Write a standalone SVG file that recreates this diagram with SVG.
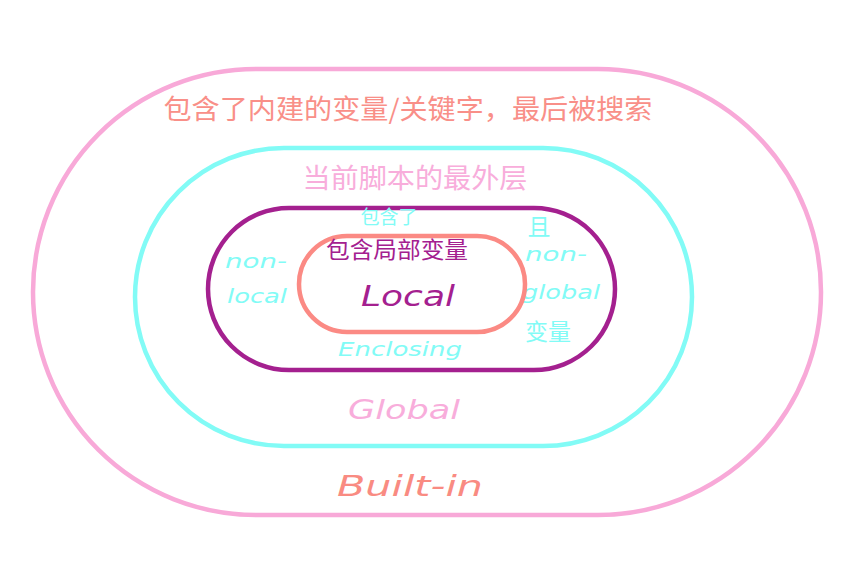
<svg xmlns="http://www.w3.org/2000/svg" width="845" height="588" viewBox="0 0 845 588">
<style>
.ring{fill:none;stroke-width:4.5;}
.cjk{font-family:"Noto Sans CJK SC","Noto Sans",sans-serif;text-anchor:middle;}
.hand{font-family:"DejaVu Sans","Liberation Sans",sans-serif;font-style:italic;text-anchor:middle;font-weight:200;}
</style>
<rect width="845" height="588" fill="#ffffff"/>
<g id="builtin">
<rect class="ring" x="33" y="69" width="788" height="446" rx="223" ry="223" stroke="#f8a9d8"/>
<text class="cjk" x="408" y="119" font-size="27" fill="#f98f88" textLength="489" lengthAdjust="spacingAndGlyphs">包含了内建的变量/关键字，最后被搜索</text>
<text class="hand" x="410" y="496" font-size="28" fill="#f98b82" textLength="146" lengthAdjust="spacingAndGlyphs">Built-in</text>
</g>
<g id="global">
<rect class="ring" x="135" y="148" width="557" height="298" rx="149" ry="149" stroke="#82fbf6"/>
<text class="cjk" x="415" y="188" font-size="27" fill="#f8addb" textLength="225" lengthAdjust="spacingAndGlyphs">当前脚本的最外层</text>
<text class="hand" x="404" y="419" font-size="27" fill="#f8addb" textLength="112" lengthAdjust="spacingAndGlyphs">Global</text>
</g>
<g id="enclosing">
<rect class="ring" x="208" y="208" width="407" height="162" rx="81" ry="81" stroke="#a4208f"/>
<text class="cjk" x="389" y="224" font-size="19" fill="#82fbf6">包含了</text>
<text class="cjk" x="539" y="235" font-size="23" fill="#82fbf6">且</text>
<text class="hand" x="256" y="268" font-size="20" fill="#82fbf6" textLength="62" lengthAdjust="spacingAndGlyphs">non-</text>
<text class="hand" x="257" y="303" font-size="20" fill="#82fbf6" textLength="60" lengthAdjust="spacingAndGlyphs">local</text>
<text class="hand" x="556" y="261" font-size="20" fill="#82fbf6" textLength="62" lengthAdjust="spacingAndGlyphs">non-</text>
<text class="hand" x="561" y="299" font-size="20" fill="#82fbf6" textLength="78" lengthAdjust="spacingAndGlyphs">global</text>
<text class="cjk" x="548" y="340" font-size="23" fill="#82fbf6">变量</text>
<text class="hand" x="400" y="356" font-size="20" fill="#82fbf6" textLength="124" lengthAdjust="spacingAndGlyphs">Enclosing</text>
</g>
<g id="local">
<rect class="ring" x="299" y="236" width="226" height="96" rx="48" ry="48" stroke="#fb8a84"/>
<text class="cjk" x="397" y="258" font-size="23" fill="#a4208f" textLength="142" lengthAdjust="spacingAndGlyphs">包含局部变量</text>
<text class="hand" x="408" y="306" font-size="28" fill="#a4208f" textLength="94" lengthAdjust="spacingAndGlyphs">Local</text>
</g>
<g id="connectors"></g>
</svg>
